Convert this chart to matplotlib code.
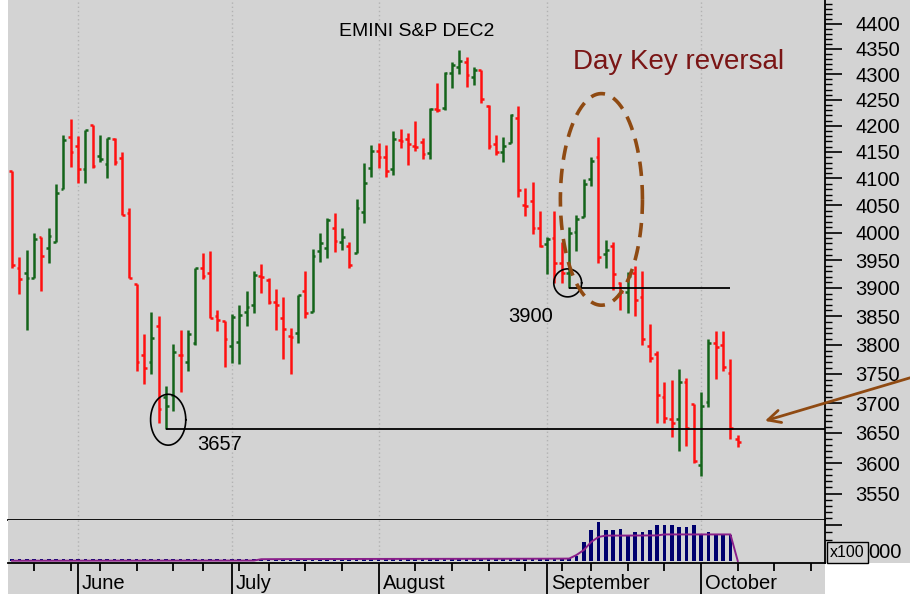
import numpy as np
import pandas as pd
import matplotlib
matplotlib.use('Agg')
import matplotlib.pyplot as plt
import matplotlib.transforms as mtransforms
from matplotlib.patches import Rectangle
from matplotlib.ticker import NullFormatter

plt.rcParams['font.family'] = ['Liberation Sans', 'DejaVu Sans']

# --- data -------------------------------------------------------------
title = 'EMINI S&P DEC2'
first_day = '2022-05-18'
axis_end = '2022-10-31'
holidays = ['2022-05-30', '2022-06-20', '2022-07-04', '2022-09-05']

opens = [4114, 3936, 3927, 3918, 3992, 3972, 3983, 4081, 4179, 4162,
         4118, 4202, 4143, 4127, 4175, 4139, 4036, 3907, 3782, 3770,
         3833, 3711, 3713, 3782, 3770, 3803, 3936, 3927, 3851, 3842,
         3798, 3805, 3857, 3870, 3921, 3914, 3875, 3846, 3816, 3821,
         3894, 3858, 3966, 3972, 4008, 3983, 3976, 3963, 4038, 4120,
         4152, 4141, 4118, 4173, 4175, 4162, 4169, 4148, 4232, 4234,
         4303, 4315, 4325, 4295, 4309, 4238, 4166, 4150, 4168, 4215,
         4051, 4058, 4008, 3979, 3990, 3945, 3927, 4001, 4028, 4099,
         4141, 3961, 3976, 3909, 3893, 3927, 3884, 3798, 3784, 3711,
         3673, 3673, 3736, 3699, 3597, 3702, 3803, 3800, 3751, 3640]
highs = [4114, 3955, 3968, 3999, 3992, 4008, 4090, 4183, 4213, 4181,
         4192, 4202, 4183, 4177, 4177, 4150, 4045, 3907, 3819, 3858,
         3851, 3729, 3801, 3826, 3826, 3936, 3963, 3966, 3861, 3842,
         3853, 3870, 3894, 3930, 3943, 3918, 3898, 3884, 3830, 3887,
         3930, 3970, 3999, 4027, 4036, 4008, 3983, 4062, 4130, 4164,
         4168, 4164, 4190, 4194, 4187, 4209, 4177, 4234, 4283, 4305,
         4325, 4348, 4334, 4315, 4309, 4240, 4183, 4179, 4222, 4238,
         4083, 4094, 4040, 3992, 4040, 3983, 4010, 4032, 4099, 4141,
         4179, 3986, 3983, 3911, 3929, 3940, 3930, 3837, 3789, 3736,
         3740, 3758, 3743, 3699, 3718, 3810, 3824, 3824, 3776, 3646]
lows = [3936, 3889, 3826, 3918, 3894, 3945, 3983, 4081, 4122, 4092,
        4092, 4120, 4131, 4101, 4126, 4032, 3918, 3755, 3733, 3750,
        3666, 3657, 3686, 3718, 3755, 3800, 3916, 3846, 3824, 3762,
        3769, 3767, 3832, 3855, 3891, 3872, 3826, 3775, 3750, 3803,
        3846, 3858, 3947, 3954, 3964, 3968, 3936, 3963, 4018, 4103,
        4120, 4103, 4107, 4158, 4126, 4152, 4137, 4137, 4226, 4230,
        4273, 4301, 4275, 4279, 4244, 4156, 4145, 4131, 4168, 4066,
        4030, 3997, 3973, 3925, 3909, 3909, 3900, 3966, 4028, 4086,
        3945, 3936, 3896, 3860, 3855, 3851, 3800, 3770, 3666, 3666,
        3643, 3620, 3628, 3600, 3578, 3694, 3741, 3755, 3640, 3627]
closes = [3941, 3916, 3918, 3988, 3957, 3994, 4073, 4173, 4150, 4118,
          4192, 4124, 4137, 4177, 4131, 4032, 3918, 3770, 3760, 3812,
          3690, 3695, 3788, 3782, 3819, 3936, 3921, 3846, 3844, 3810,
          3848, 3852, 3866, 3923, 3920, 3875, 3870, 3828, 3814, 3887,
          3855, 3957, 3981, 4023, 3985, 3992, 3941, 4045, 4092, 4152,
          4141, 4114, 4175, 4170, 4165, 4160, 4146, 4232, 4230, 4303,
          4319, 4327, 4299, 4309, 4252, 4162, 4150, 4162, 4220, 4079,
          4049, 4008, 3975, 3988, 3945, 3927, 3999, 4025, 4090, 4133,
          3955, 3968, 3925, 3893, 3921, 3879, 3810, 3777, 3713, 3675,
          3666, 3736, 3658, 3603, 3695, 3803, 3796, 3762, 3658, 3635]

# volume and open interest, thousands of contracts
volume = [120, 130, 115, 125, 140, 120, 130, 125, 135, 120,
          130, 140, 125, 130, 120, 135, 140, 130, 125, 135,
          140, 130, 125, 120, 135, 130, 140, 125, 130, 135,
          130, 140, 135, 150, 145, 150, 140, 145, 150, 140,
          150, 155, 145, 150, 155, 150, 145, 155, 150, 160,
          155, 150, 160, 155, 160, 165, 155, 160, 165, 160,
          170, 165, 160, 170, 175, 165, 170, 175, 180, 170,
          175, 180, 170, 175, 180, 175, 190, 350, 1330, 2170,
          2730, 2170, 2170, 2240, 1820, 2030, 2030, 2170, 2520, 2520,
          2520, 2380, 2380, 2520, 1820, 2030, 1820, 1820, 1820, 0]
open_int = [20, 20, 21, 21, 22, 22, 22, 23, 23, 24,
            24, 24, 25, 25, 25, 26, 26, 26, 27, 27,
            27, 28, 28, 28, 29, 29, 29, 30, 30, 30,
            31, 31, 32, 32, 125, 128, 130, 132, 134, 135,
            136, 137, 138, 139, 140, 140, 141, 142, 143, 144,
            145, 145, 146, 147, 148, 148, 149, 150, 150, 151,
            152, 152, 153, 154, 154, 155, 156, 156, 157, 158,
            158, 159, 160, 160, 162, 165, 170, 420, 770, 1330,
            1680, 1780, 1780, 1780, 1780, 1785, 1785, 1790, 1790, 1860,
            1860, 1860, 1860, 1860, 1860, 1860, 1860, 1860, 1860, 0]

support_low = 3657
reversal_low = 3900

# --- style ------------------------------------------------------------
GRAY = '#d3d3d3'
RED = '#ff1010'
GREEN = '#14641a'
BROWN = '#8f4a12'
MAROON = '#7a1515'
NAVY = '#00006e'
PURPLE = '#8a1f8a'
FS = 14.5

W, H = 910, 594
fig = plt.figure(figsize=(W / 100, H / 100), dpi=100, facecolor='white')
fig.patches.append(Rectangle((8 / W, 31 / H), 1 - 8 / W, 1 - 31 / H,
                             transform=fig.transFigure, fc=GRAY, ec='none', zorder=-10))
fig.patches.append(Rectangle((8 / W, 0), 817 / W, 31 / H,
                             transform=fig.transFigure, fc=GRAY, ec='none', zorder=-10))

ax = fig.add_axes([8 / W, (H - 520) / H, 817 / W, 520 / H], facecolor=GRAY)
axv = fig.add_axes([8 / W, (H - 563) / H, 817 / W, 43 / H], facecolor=GRAY, sharex=ax)

# trading calendar
cal = pd.bdate_range(first_day, axis_end)
cal = cal[~cal.isin(pd.to_datetime(holidays))]
pos = np.arange(len(cal))
month_start = [i for i in pos[1:] if cal[i].month != cal[i - 1].month]
week_start = [i for i in pos[1:] if cal[i].isocalendar()[1] != cal[i - 1].isocalendar()[1]]

# --- price bars -------------------------------------------------------
idx = np.arange(len(opens))
o, hi, lo, c = map(np.array, (opens, highs, lows, closes))
prev = np.r_[o[0], c[:-1]]
colors = np.where(c > prev, GREEN, RED)
ax.vlines(idx, lo, hi, colors=colors, lw=1.8, zorder=3)
ax.hlines(o, idx - 0.38, idx, colors=colors, lw=1.8, zorder=3)
ax.hlines(c, idx, idx + 0.38, colors=colors, lw=1.8, zorder=3)

ax.set_yscale('log')
ax.set_ylim(3507.5, 4448.5)

for m in month_start:
    ax.axvline(m, color='#b2b2b2', ls=(0, (1, 2)), lw=1, zorder=1)
    axv.axvline(m, color='#b2b2b2', ls=(0, (1, 2)), lw=1, zorder=1)


def log_ellipse(cx, cy, a, b, **kw):
    t = np.linspace(0, 2 * np.pi, 300)
    ax.plot(cx + a * np.cos(t), cy * 10 ** (b * np.sin(t)), **kw)


# support line at the June low and the 3900 line
ax.hlines(support_low, 21, 111, color='black', lw=1.3, zorder=4)
ax.hlines(reversal_low, 76, 98, color='black', lw=1.3, zorder=4)
log_ellipse(21.3, 3672, 2.4, 0.00505, color='black', lw=1.2, zorder=4)
log_ellipse(75.8, 3909, 1.9, 0.00278, color='black', lw=1.2, zorder=4)
ax.text(25.2, 3630, str(support_low), fontsize=FS, ha='left', va='center')
ax.text(73.8, 3850, str(reversal_low), fontsize=FS, ha='right', va='center')

# key reversal
log_ellipse(80.4, 4061, 5.6, 0.0210, color=BROWN, lw=2.6, ls=(0, (4, 2.5)), zorder=5)
ax.text(76.5, 4324, 'Day Key reversal', fontsize=20, color=MAROON, ha='left', va='center')
ax.annotate('', xy=(102.7, 3670), xytext=(122.5, 3743), annotation_clip=False,
            arrowprops=dict(arrowstyle='->,head_length=0.9,head_width=0.45',
                            color=BROWN, lw=2, shrinkA=0, shrinkB=0), zorder=6)

ax.text(0.5, 0.94, title, transform=ax.transAxes, fontsize=14, ha='center', va='center')

# y axis on the right
majors = list(range(3550, 4401, 50))
ax.set_yticks(majors, labels=[str(v) for v in majors])
ax.set_yticks([v for v in range(3510, 4450, 10) if v % 50], minor=True)
ax.yaxis.set_minor_formatter(NullFormatter())
ax.yaxis.tick_right()
ax.tick_params(axis='y', which='major', direction='out', length=12, width=1.2,
               pad=10, labelsize=FS)
ax.tick_params(axis='y', which='minor', direction='out', length=5, width=1.0)
ax.tick_params(axis='x', which='both', bottom=False, top=False, labelbottom=False)
for s in ('left', 'top'):
    ax.spines[s].set_visible(False)
ax.spines['right'].set_linewidth(1.3)
ax.spines['bottom'].set_linewidth(1.3)

# --- volume panel -----------------------------------------------------
axv.bar(idx, volume, width=0.5, color=NAVY, zorder=3)
axv.plot(idx, open_int, color=PURPLE, lw=1.4, zorder=4)
axv.set_ylim(-140, 2870)
axv.yaxis.tick_right()
axv.set_yticks([2500], labels=[''])
axv.set_yticks([2000, 1500], minor=True)
axv.tick_params(axis='y', which='major', direction='out', length=12, width=1.2)
axv.tick_params(axis='y', which='minor', direction='out', length=5, width=1.0)
for s in ('left', 'top'):
    axv.spines[s].set_visible(False)
axv.spines['right'].set_linewidth(1.3)
axv.spines['bottom'].set_linewidth(1.3)

axv.set_xticks(month_start)
axv.set_xticks(week_start, minor=True)
axv.tick_params(axis='x', which='major', direction='out', length=22.5, width=1.3,
                labelbottom=False)
axv.tick_params(axis='x', which='minor', direction='out', length=6, width=1.3)
blend = mtransforms.blended_transform_factory(axv.transData, axv.transAxes)
for m in month_start:
    axv.text(m + 0.55, -0.47, cal[m].strftime('%B'), transform=blend, fontsize=FS,
             ha='left', va='center', clip_on=False)

axv.text(1.027, 0.25, 'x100', transform=axv.transAxes, fontsize=11.5, ha='center',
         va='center', bbox=dict(boxstyle='square,pad=0.2', fc=GRAY, ec='black', lw=1))
axv.text(1.0735, 0.25, '000', transform=axv.transAxes, fontsize=FS, ha='center', va='center')

# fix the shared x range after all artists are added
ax.set_xlim(-0.55, 110.9)

fig.savefig('out.png', dpi=100, facecolor='white')
